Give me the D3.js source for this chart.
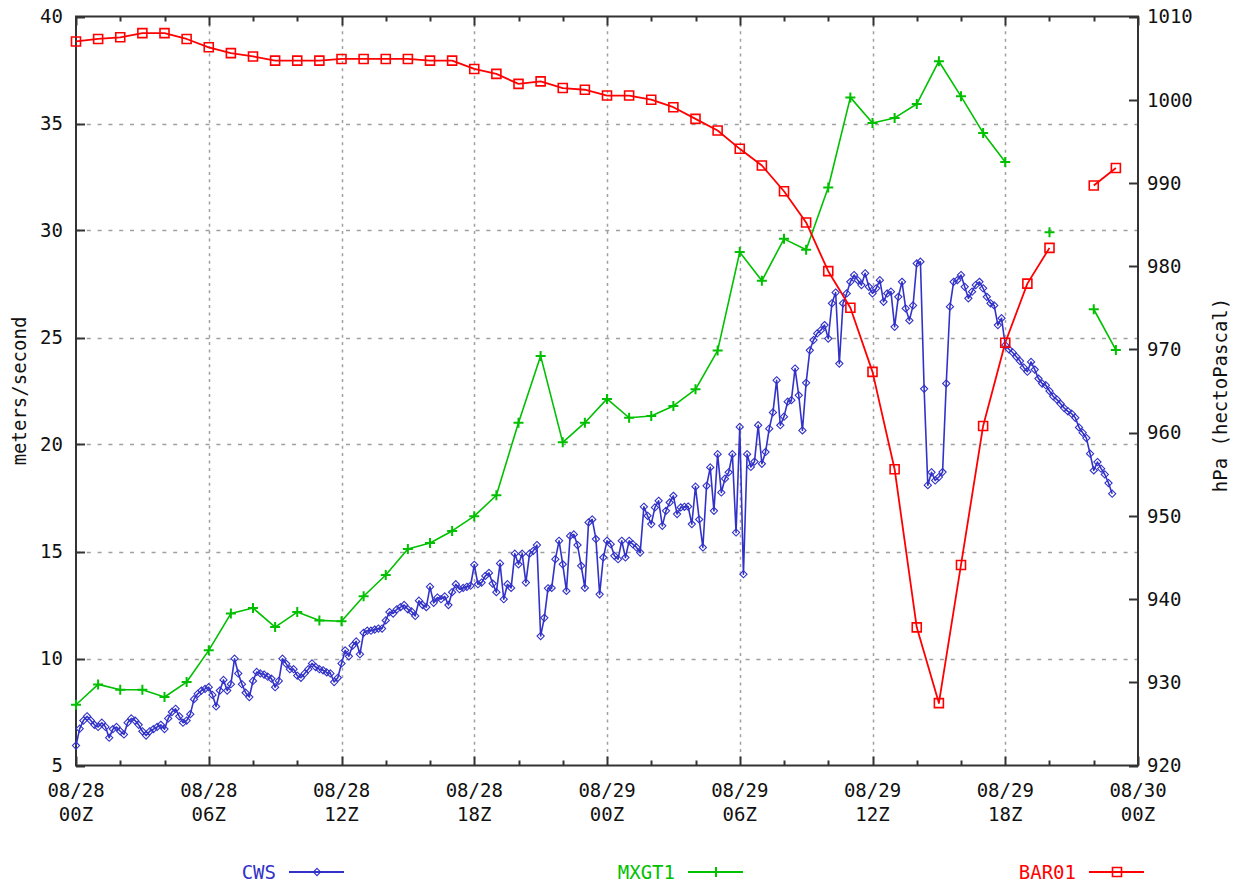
<!DOCTYPE html>
<html><head><meta charset="utf-8">
<script src="https://cdn.jsdelivr.net/npm/d3@7"></script>
<style>html,body{margin:0;padding:0;background:#fff;}svg{display:block;}</style>
</head><body>
<svg id="chart" width="1237" height="884"></svg>
<script>
// ---------- data ----------
const startTime = Date.UTC(2005, 7, 28, 0, 0);
const endTime = Date.UTC(2005, 7, 30, 0, 0);
const leftTicks = [5, 10, 15, 20, 25, 30, 35, 40];
const rightTicks = [920, 930, 940, 950, 960, 970, 980, 990, 1000, 1010];
const seriesNames = ["CWS", "MXGT1", "BAR01"];
const axisTitleLeft = "meters/second";
const axisTitleRight = "hPa (hectoPascal)";

// CWS: 10-minute samples starting 08/28 00Z (m/s)
const cwsValues = [
  5.93, 6.72, 7.1, 7.3, 7.1, 6.9,
  6.8, 7.0, 6.8, 6.3, 6.7, 6.8,
  6.6, 6.45, 7.0, 7.2, 7.1, 6.9,
  6.6, 6.4, 6.6, 6.7, 6.8, 6.9,
  6.7, 7.2, 7.5, 7.65, 7.3, 7.0,
  7.1, 7.4, 8.1, 8.35, 8.5, 8.58,
  8.66, 8.3, 7.76, 8.5, 9.0, 8.5,
  8.8, 9.99, 9.3, 8.8, 8.4, 8.2,
  8.95, 9.37, 9.3, 9.25, 9.15, 9.06,
  8.66, 8.95, 9.99, 9.75, 9.5, 9.5,
  9.2, 9.1, 9.3, 9.5, 9.77, 9.6,
  9.5, 9.45, 9.35, 9.3, 8.9, 9.1,
  9.77, 10.38, 10.1, 10.6, 10.8, 10.2,
  11.2, 11.3, 11.3, 11.35, 11.4, 11.4,
  11.78, 12.17, 12.1, 12.3, 12.4, 12.5,
  12.3, 12.2, 11.99, 12.7, 12.5, 12.4,
  13.35, 12.6, 12.85, 12.77, 12.9, 12.5,
  13.1, 13.47, 13.24, 13.3, 13.35, 13.4,
  14.38, 13.47, 13.55, 13.86, 14.0, 13.5,
  13.1, 14.44, 12.77, 13.47, 13.3, 14.9,
  14.4, 14.9, 13.55, 14.9, 15.03, 15.3,
  11.05, 11.9, 13.28, 13.3, 14.64, 15.5,
  14.4, 13.16, 15.73, 15.8, 15.3, 14.33,
  13.3, 16.36, 16.5, 15.58, 13.0, 14.72,
  15.5, 15.34, 14.8, 14.64, 15.5, 14.72,
  15.5, 15.34, 15.19, 14.95, 17.09, 16.67,
  16.28, 17.06, 17.37, 16.2, 16.9, 17.29,
  17.6, 16.75, 17.06, 17.09, 17.1, 16.28,
  18.03, 16.5, 15.19, 18.07, 18.93, 16.9,
  19.55, 17.76, 18.4, 18.7, 19.55, 15.89,
  20.82, 13.94, 19.55, 18.95, 19.2, 20.9,
  19.1, 19.65, 20.74, 21.5, 23.0, 20.9,
  21.3, 22.0, 22.07, 23.55, 22.3, 20.66,
  22.88, 24.4, 24.88, 25.19, 25.34, 25.58,
  24.95, 26.6, 27.1, 23.78, 26.6, 27.06,
  27.6, 27.92, 27.68, 27.45, 28.0, 27.37,
  27.06, 27.3, 27.68, 26.67, 27.06, 27.14,
  25.5, 26.9, 27.6, 26.36, 25.8, 26.5,
  28.46, 28.54, 22.6, 18.1, 18.7, 18.32,
  18.48, 18.71, 22.85, 26.44, 27.6, 27.68,
  27.92, 27.37, 26.83, 27.14, 27.45, 27.6,
  27.3, 26.9, 26.6, 26.5, 25.58, 25.9,
  24.64, 24.45, 24.3, 24.1, 23.9, 23.6,
  23.4, 23.86, 23.5, 23.08, 22.85, 22.77,
  22.5, 22.25, 22.1, 21.9, 21.7, 21.55,
  21.44, 21.25, 20.8, 20.55, 20.3, 19.57,
  18.79, 19.18, 18.87, 18.6, 18.2, 17.7
];

// MXGT1: hourly max gust (m/s), null = missing
const mxgtValues = [
  7.84, 8.79, 8.54, 8.54, 8.20, 8.90, 10.38, 12.10, 12.36, 11.47, 12.17, 11.78,
  11.74, 12.91, 13.90, 15.12, 15.40, 15.96, 16.65, 17.63, 21.02, 24.14, 20.10, 21.02,
  22.13, 21.25, 21.33, 21.80, 22.58, 24.39, 28.99, 27.65, 29.61, 29.10, 32.01, 36.22,
  35.02, 35.26, 35.91, 37.91, 36.27, 34.56, 33.20, null, 29.92, null, 26.32, 24.42
];

// BAR01: hourly pressure (hPa), null = missing
const baroValues = [
  1007.0, 1007.3, 1007.5, 1008.0, 1008.0, 1007.3, 1006.3, 1005.6, 1005.2, 1004.7, 1004.7, 1004.7,
  1004.9, 1004.9, 1004.9, 1004.9, 1004.7, 1004.7, 1003.7, 1003.1, 1001.9, 1002.2, 1001.4, 1001.2,
  1000.5, 1000.5, 1000.0, 999.1, 997.7, 996.3, 994.1, 992.1, 989.0, 985.25, 979.4, 975.0,
  967.3, 955.6, 936.6, 927.5, 944.1, 960.8, 970.8, 977.9, 982.2, null, 989.7, 991.8
];

// ---------- layout ----------
const L = 76, R = 1138, T = 16.5, B = 765.5;
const blue = "#3232c8", green = "#00c000", red = "#ff0000";
const font = "'DejaVu Sans Mono', 'Liberation Mono', monospace";

const svg = d3.select("#chart");
svg.append("rect").attr("width", 1237).attr("height", 884).attr("fill", "#fff");

const x = d3.scaleUtc().domain([new Date(startTime), new Date(endTime)]).range([L, R]);
const yL = d3.scaleLinear().domain([5, 40]).range([B, T]);
const yR = d3.scaleLinear().domain([920, 1010]).range([B, T]);

const cwsData = cwsValues.map((v, i) => ({ t: new Date(startTime + i * 600000), v }));
const mxgtData = mxgtValues.map((v, i) => ({ t: new Date(startTime + i * 3600000), v }));
const baroData = baroValues.map((v, i) => ({ t: new Date(startTime + i * 3600000), v }));

// ---------- grid ----------
const majorTimes = x.ticks(d3.utcHour.every(6));
const minorTimes = x.ticks(d3.utcHour.every(2));
const grid = svg.append("g").attr("stroke", "#a0a0a0").attr("stroke-width", 1.5);
grid.selectAll("line.v").data(majorTimes.slice(1, -1)).join("line")
  .attr("x1", d => Math.round(x(d)) + 0.5).attr("x2", d => Math.round(x(d)) + 0.5)
  .attr("y1", T).attr("y2", B).attr("stroke-dasharray", "3,4.4");
grid.selectAll("line.h").data(leftTicks.slice(1, -1)).join("line")
  .attr("x1", L).attr("x2", R)
  .attr("y1", d => Math.round(yL(d)) + 0.5).attr("y2", d => Math.round(yL(d)) + 0.5)
  .attr("stroke-dasharray", "4,6.8");

// ---------- frame & ticks ----------
const axisCol = "#333";
const fr = svg.append("g").attr("stroke", axisCol).attr("fill", "none");
fr.append("rect").attr("x", L).attr("y", T).attr("width", R - L).attr("height", B - T).attr("stroke-width", 2);
const isMajor = d => d.getUTCHours() % 6 === 0;
minorTimes.forEach(d => {
  const len = isMajor(d) ? 9 : 5;
  const xx = Math.round(x(d)) + 0.5;
  fr.append("line").attr("x1", xx).attr("x2", xx).attr("y1", B).attr("y2", B - len).attr("stroke-width", 2);
  fr.append("line").attr("x1", xx).attr("x2", xx).attr("y1", T).attr("y2", T + len).attr("stroke-width", 2);
});
leftTicks.forEach(v => {
  const yy = Math.round(yL(v)) + 0.5;
  fr.append("line").attr("x1", L).attr("x2", L + 9).attr("y1", yy).attr("y2", yy).attr("stroke-width", 2);
});
rightTicks.forEach(v => {
  const yy = Math.round(yR(v)) + 0.5;
  fr.append("line").attr("x1", R).attr("x2", R - 9).attr("y1", yy).attr("y2", yy).attr("stroke-width", 2);
});

// ---------- tick labels ----------
const txt = svg.append("g").attr("font-family", font).attr("font-size", 19).attr("fill", "#111");
txt.selectAll("text.yl").data(leftTicks).join("text")
  .attr("x", 63).attr("y", d => yL(d)).attr("dy", "0.36em").attr("text-anchor", "end").text(d => d);
txt.selectAll("text.yr").data(rightTicks).join("text")
  .attr("x", 1147).attr("y", d => yR(d)).attr("dy", "0.36em").attr("text-anchor", "start").text(d => d);
const fmtDate = d3.utcFormat("%m/%d"), fmtHour = d3.utcFormat("%HZ");
const xl = txt.selectAll("text.xl").data(majorTimes).join("text")
  .attr("text-anchor", "middle");
xl.append("tspan").attr("x", d => x(d)).attr("y", 797).text(d => fmtDate(d));
xl.append("tspan").attr("x", d => x(d)).attr("y", 821).text(d => fmtHour(d));

txt.append("text").attr("transform", "translate(19,391) rotate(-90)")
  .attr("text-anchor", "middle").attr("dy", "0.35em").text(axisTitleLeft);
txt.append("text").attr("transform", "translate(1220,395) rotate(-90)")
  .attr("text-anchor", "middle").attr("dy", "0.35em").text(axisTitleRight);

// ---------- series ----------
const diamond = "M0,-3.6L3.6,0L0,3.6L-3.6,0Z";
const plus = "M-5,0H5M0,-5V5";
const square = "M-4.5,-4.5H4.5V4.5H-4.5Z";

function drawSeries(data, yScale, color, shape, lw, mw) {
  const g = svg.append("g");
  const line = d3.line().defined(d => d.v != null).x(d => x(d.t)).y(d => yScale(d.v));
  g.append("path").datum(data).attr("d", line).attr("fill", "none")
    .attr("stroke", color).attr("stroke-width", lw).attr("stroke-linejoin", "round");
  g.selectAll("path.m").data(data.filter(d => d.v != null)).join("path")
    .attr("d", shape).attr("transform", d => `translate(${x(d.t)},${yScale(d.v)})`)
    .attr("fill", "none").attr("stroke", color).attr("stroke-width", mw);
}
drawSeries(cwsData, yL, blue, diamond, 1.6, 1.1);
drawSeries(mxgtData, yL, green, plus, 1.6, 2);
drawSeries(baroData, yR, red, square, 1.8, 1.6);

// ---------- legend ----------
const legend = [
  { name: seriesNames[0], color: blue, shape: diamond, tx: 276, mw: 1.1 },
  { name: seriesNames[1], color: green, shape: plus, tx: 675, mw: 2 },
  { name: seriesNames[2], color: red, shape: square, tx: 1076, mw: 1.6 }
];
const lg = svg.append("g").attr("font-family", font).attr("font-size", 19);
legend.forEach(k => {
  lg.append("text").attr("x", k.tx).attr("y", 872).attr("dy", "0.36em")
    .attr("text-anchor", "end").attr("fill", k.color).text(k.name);
  lg.append("line").attr("x1", k.tx + 13).attr("x2", k.tx + 68).attr("y1", 872).attr("y2", 872)
    .attr("stroke", k.color).attr("stroke-width", 1.8);
  lg.append("path").attr("d", k.shape).attr("transform", `translate(${k.tx + 41},872)`)
    .attr("fill", "none").attr("stroke", k.color).attr("stroke-width", k.mw);
});
</script>
</body></html>
